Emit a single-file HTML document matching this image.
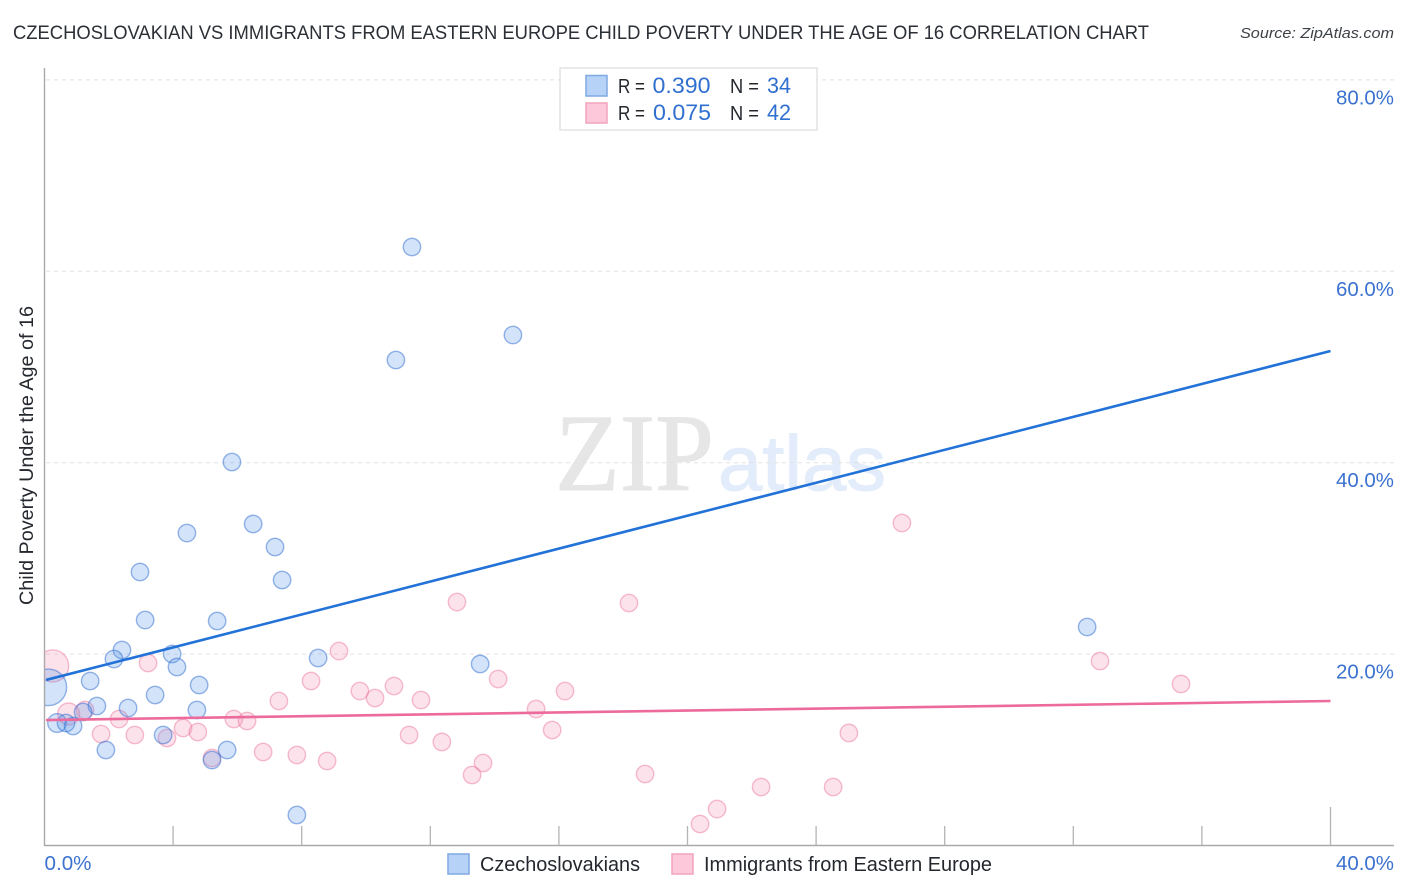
<!DOCTYPE html>
<html lang="en">
<head>
<meta charset="utf-8">
<title>Czechoslovakian vs Immigrants from Eastern Europe Child Poverty Chart</title>
<style>
html,body{margin:0;padding:0;background:#fff;}
body{width:1406px;height:892px;overflow:hidden;}
svg{display:block;font-family:"Liberation Sans",sans-serif;}
</style>
</head>
<body>
<svg id="chart" width="1406" height="892" viewBox="0 0 1406 892" xmlns="http://www.w3.org/2000/svg">
  <defs>
    <clipPath id="plot-clip"><rect x="45" y="60" width="1349" height="786"/></clipPath>
  </defs>
  <text x="13" y="39" font-size="19" fill="#2b2f36" textLength="1136" lengthAdjust="spacingAndGlyphs">CZECHOSLOVAKIAN VS IMMIGRANTS FROM EASTERN EUROPE CHILD POVERTY UNDER THE AGE OF 16 CORRELATION CHART</text>
  <text x="1394" y="38" font-size="15" font-style="italic" fill="#3d4249" text-anchor="end" textLength="154" lengthAdjust="spacingAndGlyphs">Source: ZipAtlas.com</text>

  <g id="watermark">
    <text x="555" y="490" font-family="'Liberation Serif',serif" font-size="110" fill="#e6e6e6" stroke="#e6e6e6" stroke-width="1" textLength="159" lengthAdjust="spacingAndGlyphs">ZIP</text>
    <text x="718" y="490" font-size="78" fill="#e2ecfa" stroke="#e2ecfa" stroke-width="1" textLength="168" lengthAdjust="spacingAndGlyphs">atlas</text>
  </g>

  <g id="grid"></g>
  <g id="axes"></g>
  <g clip-path="url(#plot-clip)">
    <g id="points-pink"></g>
    <g id="points-blue"></g>
    <g id="trends"></g>
  </g>
  <g id="labels"></g>

  <text transform="translate(33,605) rotate(-90)" font-size="19" fill="#24282e" textLength="299" lengthAdjust="spacingAndGlyphs">Child Poverty Under the Age of 16</text>

  <g>
    <rect x="560" y="68" width="257" height="62" fill="#fff" fill-opacity="0.9" stroke="#dcdcdc" stroke-width="1.2"/>
    <rect x="586" y="75.5" width="21" height="20.5" fill="#b6d3f7" stroke="#7fa9e2" stroke-width="1.5"/>
    <rect x="586" y="103" width="21" height="20" fill="#fcc8da" stroke="#f2a4bd" stroke-width="1.5"/>
    <g font-size="20" fill="#24282e">
      <text x="618" y="93" textLength="27" lengthAdjust="spacingAndGlyphs">R =</text>
      <text x="652.5" y="93" fill="#2f6fd0" font-size="22" textLength="58" lengthAdjust="spacingAndGlyphs">0.390</text>
      <text x="730" y="93" textLength="29" lengthAdjust="spacingAndGlyphs">N =</text>
      <text x="767" y="93" fill="#2f6fd0" font-size="22" textLength="24" lengthAdjust="spacingAndGlyphs">34</text>
      <text x="618" y="120" textLength="27" lengthAdjust="spacingAndGlyphs">R =</text>
      <text x="653" y="120" fill="#2f6fd0" font-size="22" textLength="58" lengthAdjust="spacingAndGlyphs">0.075</text>
      <text x="730" y="120" textLength="29" lengthAdjust="spacingAndGlyphs">N =</text>
      <text x="767" y="120" fill="#2f6fd0" font-size="22" textLength="24" lengthAdjust="spacingAndGlyphs">42</text>
    </g>
  </g>

  <g>
    <rect x="448" y="854" width="21" height="20" fill="#b6d3f7" stroke="#7fa9e2" stroke-width="1.5"/>
    <text x="480" y="871" font-size="20" fill="#24282e" textLength="160" lengthAdjust="spacingAndGlyphs">Czechoslovakians</text>
    <rect x="672" y="854" width="21" height="20" fill="#fcc8da" stroke="#f2a4bd" stroke-width="1.5"/>
    <text x="704" y="871" font-size="20" fill="#24282e" textLength="288" lengthAdjust="spacingAndGlyphs">Immigrants from Eastern Europe</text>
  </g>
</svg>
<script>
const yTickValues = [20, 40, 60, 80];
const yTickLabels = ["20.0%", "40.0%", "60.0%", "80.0%"];
const xTickValues = [0, 4, 8, 12, 16, 20, 24, 28, 32, 36, 40];
const xEndValues = [0, 40];
const xEndLabels = ["0.0%", "40.0%"];

const blueX = [11.43,14.57,10.93,5.83,6.49,4.43,7.17,7.39,2.97,3.13,5.37,2.41,2.16,3.97,4.12,8.51,13.55,32.43,1.42,4.81,3.44,1.63,2.60,4.74,1.20,0.39,0.67,0.89,3.69,1.91,5.68,5.21,7.85,0.12];
const blueY = [62.54,53.34,50.73,40.07,33.60,32.65,31.19,27.74,28.58,23.56,23.46,20.43,19.49,20.01,18.65,19.59,18.97,22.83,17.19,16.77,15.73,14.58,14.37,14.16,13.95,12.80,12.80,12.49,11.55,9.98,9.98,8.93,3.19,16.53];
const blueWeight = [1,1,1,1,1,1,1,1,1,1,1,1,1,1,1,1,1,1,1,1,1,1,1,1,1,1.15,1,1,1,1,1,1,1,4.42];

const pinkX = [26.67,12.83,18.18,32.83,35.35,9.16,3.22,8.29,9.81,10.28,10.87,11.71,7.29,16.19,14.11,15.29,15.79,11.34,12.36,25.02,13.64,13.30,18.68,22.29,24.53,20.92,20.39,6.80,7.85,8.79,5.21,5.89,6.30,4.31,4.77,3.81,2.81,2.32,1.76,1.26,0.75,0.255];
const pinkY = [33.70,25.44,25.34,19.28,16.88,20.32,19.07,17.19,16.14,15.41,16.67,15.20,15.10,16.14,17.40,14.26,12.07,11.55,10.82,11.76,8.62,7.37,7.47,6.11,6.11,3.81,2.25,9.77,9.46,8.83,9.14,13.22,13.01,12.28,11.86,11.23,11.55,13.22,11.65,14.16,13.74,18.76];
const pinkWeight = [1,1,1,1,1,1,1,1,1,1,1,1,1,1,1,1,1,1,1,1,1,1,1,1,1,1,1,1,1,1,1,1,1,1,1,1,1,1,1,1,1.6,3.38];

const blueTrendX = [0.05, 40];
const blueTrendY = [17.3, 51.67];
const pinkTrendX = [0.05, 40];
const pinkTrendY = [13.11, 15.1];

const SVG_NS = "http://www.w3.org/2000/svg";
function xScale(v) { return 44.5 + v * 32.15; }
function yScale(v) { return 845.5 - v * 9.57; }
function rScale(w) { return 8.7 * Math.sqrt(w); }
function make(parentId, tag, attrs) {
  const el = document.createElementNS(SVG_NS, tag);
  for (const k in attrs) el.setAttribute(k, attrs[k]);
  document.getElementById(parentId).appendChild(el);
  return el;
}

yTickValues.forEach(function (v) {
  const grid = make("grid", "line", { x1: 46, x2: 1394, y1: yScale(v), y2: yScale(v), stroke: "#e2e2e2", "stroke-width": 1, "stroke-dasharray": "4 4" });
  
  
});

const yAxis = make("axes", "line", { x1: 44.5, x2: 44.5, y1: 68, y2: 846, stroke: "#a9a9a9", "stroke-width": 1.4 });


const xAxis = make("axes", "line", { x1: 44, x2: 1394, y1: 845.5, y2: 845.5, stroke: "#a9a9a9", "stroke-width": 1.4 });



xTickValues.forEach(function (v, i) {
  if (i === 0) return;
  const top = i === xTickValues.length - 1 ? 807 : 826;
  const tick = make("axes", "line", { x1: xScale(v), x2: xScale(v), y1: top, y2: 845, stroke: "#b4b4b4", "stroke-width": 1.3 });
  
  
});

function drawPoints(groupId, xs, ys, ws, fill, stroke, name) {
  xs.forEach(function (x, i) {
    const c = make(groupId, "circle", { cx: xScale(x), cy: yScale(ys[i]), r: rScale(ws[i]), fill: fill, stroke: stroke, "stroke-width": 1.4 });
    
    
  });
}
drawPoints("points-pink", pinkX, pinkY, pinkWeight, "rgba(246,150,182,0.28)", "rgba(236,110,152,0.45)", "immigrants-point");
drawPoints("points-blue", blueX, blueY, blueWeight, "rgba(96,156,232,0.28)", "rgba(48,110,208,0.5)", "czechoslovakians-point");

const blueTrend = make("trends", "line", { x1: xScale(blueTrendX[0]), y1: yScale(blueTrendY[0]), x2: xScale(blueTrendX[1]), y2: yScale(blueTrendY[1]), stroke: "#2272d8", "stroke-width": 2.6 });


const pinkTrend = make("trends", "line", { x1: xScale(pinkTrendX[0]), y1: yScale(pinkTrendY[0]), x2: xScale(pinkTrendX[1]), y2: yScale(pinkTrendY[1]), stroke: "#ec6a9c", "stroke-width": 2.6 });



yTickValues.forEach(function (v, i) {
  const t = make("labels", "text", { x: 1394, y: yScale(v) + 24.5, "font-size": 20, fill: "#3b72d0", "text-anchor": "end", textLength: 58, lengthAdjust: "spacingAndGlyphs" });
  t.textContent = yTickLabels[i];
  
  
});
xEndValues.forEach(function (v, i) {
  const isLast = i === xEndValues.length - 1;
  const t = make("labels", "text", { x: isLast ? 1394 : xScale(v), y: 870, "font-size": 20, fill: "#3b72d0", "text-anchor": isLast ? "end" : "start", textLength: isLast ? 58 : 47, lengthAdjust: "spacingAndGlyphs" });
  t.textContent = xEndLabels[i];
  
  
});
</script>
</body>
</html>
